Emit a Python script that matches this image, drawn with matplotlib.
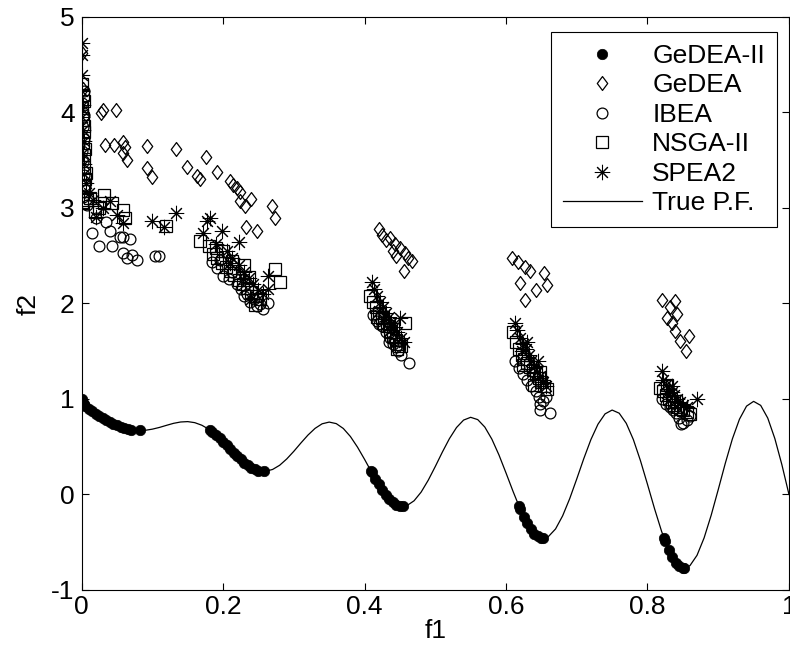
import matplotlib
matplotlib.use("Agg")
import matplotlib.pyplot as plt
from matplotlib.path import Path

plt.rcParams['font.family'] = ['Liberation Sans', 'DejaVu Sans']
plt.rcParams['axes.unicode_minus'] = False

# =========================
# DATA
# =========================
# True Pareto front curve, f1 in steps of 0.01
pf_f1 = [i / 100 for i in range(101)]
pf_f2 = [1.000, 0.897, 0.847, 0.803, 0.762, 0.726, 0.698, 0.679, 0.670, 0.672,
         0.684, 0.702, 0.724, 0.745, 0.759, 0.763, 0.752, 0.725, 0.682, 0.623,
         0.553, 0.477, 0.402, 0.334, 0.282, 0.250, 0.243, 0.262, 0.306, 0.372,
         0.452, 0.539, 0.622, 0.692, 0.740, 0.758, 0.742, 0.691, 0.607, 0.496,
         0.368, 0.233, 0.105, -0.004, -0.082, -0.121, -0.116, -0.066, 0.025, 0.149,
         0.293, 0.444, 0.585, 0.701, 0.779, 0.808, 0.784, 0.706, 0.579, 0.414,
         0.225, 0.031, -0.152, -0.303, -0.409, -0.456, -0.440, -0.361, -0.224, -0.044,
         0.163, 0.377, 0.575, 0.736, 0.844, 0.884, 0.851, 0.745, 0.575, 0.355,
         0.106, -0.150, -0.388, -0.583, -0.715, -0.772, -0.745, -0.637, -0.455, -0.218,
         0.051, 0.327, 0.582, 0.788, 0.925, 0.975, 0.933, 0.800, 0.586, 0.311,
         0.000]

# GeDEA-II (on the front)
gedea2_f1 = [0.000, 0.001, 0.002, 0.003, 0.005, 0.010, 0.015, 0.020, 0.025, 0.030,
             0.035, 0.040, 0.045, 0.050, 0.055, 0.060, 0.065, 0.070, 0.083,
             0.1822, 0.185, 0.190, 0.195, 0.200, 0.205, 0.210, 0.215, 0.220, 0.225,
             0.230, 0.235, 0.240, 0.245, 0.250, 0.2578,
             0.4093, 0.410, 0.415, 0.420, 0.425, 0.430, 0.435, 0.440, 0.445, 0.450, 0.4539,
             0.6184, 0.620, 0.625, 0.630, 0.635, 0.640, 0.645, 0.650, 0.6525,
             0.8233, 0.825, 0.830, 0.835, 0.840, 0.845, 0.850, 0.8518]
gedea2_f2 = [1.000, 0.968, 0.955, 0.945, 0.928, 0.897, 0.871, 0.847, 0.824, 0.803,
             0.782, 0.762, 0.743, 0.726, 0.711, 0.698, 0.687, 0.679, 0.670,
             0.670, 0.654, 0.623, 0.589, 0.553, 0.515, 0.477, 0.439, 0.402, 0.367,
             0.334, 0.306, 0.282, 0.263, 0.250, 0.242,
             0.242, 0.233, 0.167, 0.105, 0.048, -0.004, -0.047, -0.082, -0.107, -0.121, -0.124,
             -0.124, -0.152, -0.233, -0.303, -0.363, -0.409, -0.440, -0.456, -0.458,
             -0.458, -0.492, -0.583, -0.658, -0.715, -0.754, -0.772, -0.773]

# GeDEA
gedea_f1 = [0.001, 0.002, 0.003, 0.030, 0.028, 0.049, 0.033, 0.046, 0.059, 0.061,
            0.059, 0.064, 0.092, 0.092, 0.100, 0.134, 0.149, 0.163, 0.167, 0.176,
            0.191, 0.210, 0.214, 0.219, 0.224, 0.224, 0.231, 0.240, 0.269, 0.273,
            0.233, 0.248,
            0.420, 0.425, 0.430, 0.436, 0.443, 0.450, 0.457, 0.462, 0.467, 0.456,
            0.445, 0.440,
            0.608, 0.617, 0.627, 0.634, 0.620, 0.642, 0.627, 0.654, 0.658,
            0.820, 0.839, 0.832, 0.827, 0.841, 0.839, 0.846, 0.858, 0.855, 0.835]
gedea_f2 = [4.62, 4.25, 3.95, 4.03, 3.99, 4.03, 3.66, 3.66, 3.69, 3.64,
            3.58, 3.50, 3.65, 3.42, 3.32, 3.62, 3.43, 3.33, 3.30, 3.53,
            3.38, 3.28, 3.24, 3.21, 3.17, 3.07, 3.02, 3.09, 3.02, 2.90,
            2.80, 2.76,
            2.78, 2.72, 2.66, 2.69, 2.62, 2.58, 2.53, 2.48, 2.44, 2.34,
            2.50, 2.55,
            2.48, 2.43, 2.38, 2.34, 2.21, 2.14, 2.04, 2.32, 2.19,
            2.04, 2.03, 1.96, 1.85, 1.89, 1.71, 1.61, 1.66, 1.50, 1.80]

# IBEA
ibea_f1 = [0.001, 0.002, 0.001, 0.003, 0.002, 0.007, 0.014, 0.024, 0.040, 0.043,
           0.054, 0.059, 0.068, 0.059, 0.064, 0.078, 0.071, 0.104, 0.110, 0.020, 0.035,
           0.003, 0.004, 0.002, 0.005, 0.003,
           0.184, 0.191, 0.200, 0.219, 0.229, 0.248, 0.264, 0.208, 0.238, 0.256,
           0.196, 0.212, 0.226, 0.244, 0.234, 0.252,
           0.412, 0.418, 0.424, 0.430, 0.436, 0.440, 0.444, 0.447, 0.452, 0.463, 0.434,
           0.420, 0.442,
           0.612, 0.618, 0.624, 0.630, 0.636, 0.642, 0.646, 0.648, 0.652, 0.648, 0.662, 0.656,
           0.820, 0.826, 0.832, 0.836, 0.840, 0.845, 0.850, 0.856, 0.860, 0.848]
ibea_f2 = [4.10, 3.85, 3.60, 3.35, 3.12, 3.03, 2.74, 2.60, 2.76, 2.60,
           2.70, 2.70, 2.68, 2.53, 2.48, 2.46, 2.51, 2.50, 2.50, 2.90, 2.85,
           3.97, 3.72, 3.48, 3.24, 4.22,
           2.43, 2.37, 2.29, 2.20, 2.08, 1.97, 2.01, 2.26, 2.02, 1.94,
           2.45, 2.33, 2.15, 2.05, 2.10, 1.99,
           1.88, 1.82, 1.76, 1.70, 1.64, 1.58, 1.54, 1.50, 1.46, 1.38, 1.60,
           1.78, 1.62,
           1.40, 1.32, 1.26, 1.20, 1.14, 1.08, 1.02, 0.95, 0.98, 0.88, 0.85, 1.02,
           1.00, 0.95, 0.92, 0.88, 0.85, 0.80, 0.75, 0.78, 0.82, 0.74]

# NSGA-II
nsga2_f1 = [0.001, 0.002, 0.001, 0.002, 0.003, 0.002, 0.003, 0.004, 0.005, 0.003,
            0.000, 0.019, 0.031, 0.031, 0.043, 0.059, 0.061, 0.012, 0.120, 0.167,
            0.004, 0.003, 0.005, 0.006, 0.004, 0.008, 0.025,
            0.180, 0.186, 0.192, 0.198, 0.204, 0.210, 0.216, 0.222, 0.228, 0.234,
            0.240, 0.246, 0.252, 0.273, 0.280, 0.200, 0.230, 0.245,
            0.212, 0.236, 0.190,
            0.408, 0.412, 0.416, 0.420, 0.424, 0.428, 0.432, 0.436, 0.440, 0.444,
            0.448, 0.452, 0.457, 0.446, 0.418, 0.434,
            0.610, 0.614, 0.618, 0.622, 0.626, 0.630, 0.634, 0.638, 0.642, 0.646,
            0.650, 0.654, 0.658, 0.640, 0.624, 0.648,
            0.818, 0.822, 0.826, 0.830, 0.834, 0.838, 0.842, 0.846, 0.850, 0.856,
            0.860, 0.828, 0.840]
nsga2_f2 = [4.30, 4.18, 4.05, 3.92, 3.80, 3.68, 3.55, 3.43, 3.30, 3.18,
            3.05, 2.96, 3.14, 3.05, 3.05, 2.98, 2.89, 3.10, 2.81, 2.65,
            4.12, 3.86, 3.62, 3.37, 3.24, 3.08, 3.00,
            2.60, 2.52, 2.48, 2.42, 2.38, 2.34, 2.30, 2.25, 2.20, 2.16,
            2.12, 2.08, 2.05, 2.36, 2.23, 2.55, 2.40, 1.98,
            2.44, 2.28, 2.58,
            2.08, 2.02, 1.96, 1.90, 1.85, 1.80, 1.76, 1.70, 1.66, 1.62,
            1.58, 1.55, 1.80, 1.52, 1.86, 1.76,
            1.70, 1.60, 1.52, 1.46, 1.42, 1.38, 1.34, 1.30, 1.26, 1.22,
            1.18, 1.14, 1.10, 1.15, 1.36, 1.28,
            1.12, 1.08, 1.04, 1.00, 0.97, 0.94, 0.92, 0.90, 0.88, 0.86,
            0.84, 1.15, 0.98]

# SPEA2
spea2_f1 = [0.000, 0.000, 0.001, 0.001, 0.002, 0.001, 0.002, 0.003, 0.002, 0.003,
            0.004, 0.006, 0.010, 0.016, 0.021, 0.040, 0.030, 0.059, 0.050, 0.099,
            0.116, 0.134, 0.172, 0.177,
            0.181, 0.198, 0.190, 0.205, 0.213, 0.222, 0.222, 0.230, 0.236, 0.243,
            0.250, 0.256, 0.264, 0.264, 0.240, 0.210, 0.228,
            0.410, 0.414, 0.418, 0.422, 0.426, 0.430, 0.434, 0.438, 0.442, 0.446,
            0.450, 0.452, 0.456, 0.420, 0.436, 0.428,
            0.612, 0.616, 0.620, 0.624, 0.628, 0.632, 0.636, 0.640, 0.644, 0.648,
            0.652, 0.656, 0.630, 0.645, 0.622,
            0.820, 0.822, 0.826, 0.830, 0.834, 0.838, 0.842, 0.846, 0.850, 0.856,
            0.870, 0.835, 0.828]
spea2_f2 = [4.73, 4.60, 4.39, 4.22, 4.08, 3.95, 3.82, 3.70, 3.58, 3.46,
            3.36, 3.26, 3.16, 3.08, 2.91, 3.07, 3.00, 2.84, 2.93, 2.86,
            2.80, 2.95, 2.74, 2.86,
            2.90, 2.76, 2.62, 2.55, 2.48, 2.64, 2.40, 2.33, 2.27, 2.20,
            2.14, 2.10, 2.29, 2.15, 2.05, 2.42, 2.26,
            2.22, 2.15, 2.08, 2.02, 1.96, 1.90, 1.86, 1.80, 1.75, 1.70,
            1.85, 1.64, 1.60, 1.92, 1.72, 1.84,
            1.80, 1.72, 1.64, 1.58, 1.52, 1.46, 1.40, 1.34, 1.28, 1.24,
            1.18, 1.14, 1.60, 1.40, 1.50,
            1.29, 1.20, 1.15, 1.10, 1.07, 1.04, 1.00, 0.97, 0.94, 0.92,
            1.00, 1.14, 1.06]

x_ticks = [0, 0.2, 0.4, 0.6, 0.8, 1]
x_tick_labels = ['0', '0.2', '0.4', '0.6', '0.8', '1']
y_ticks = [-1, 0, 1, 2, 3, 4, 5]
y_tick_labels = ['-1', '0', '1', '2', '3', '4', '5']

# MATLAB-like diamond (a bit taller than wide)
diamond = Path([(0, 1), (0.75, 0), (0, -1), (-0.75, 0), (0, 1)],
               [Path.MOVETO, Path.LINETO, Path.LINETO, Path.LINETO, Path.CLOSEPOLY])

# =========================
# FIGURE
# =========================
fig = plt.figure(figsize=(7.9, 6.45), dpi=100)
ax = fig.add_axes([0.1033, 0.0853, 0.8954, 0.8884])

FS = 19
mk = dict(linestyle='none', color='k', markerfacecolor='none', markeredgewidth=0.9)

ax.plot(gedea2_f1, gedea2_f2, 'o', color='k', markersize=7.5, markeredgewidth=0.5,
        label='GeDEA-II')
ax.plot(gedea_f1, gedea_f2, marker=diamond, markersize=10, label='GeDEA', **mk)
ax.plot(ibea_f1, ibea_f2, marker='o', markersize=7.8, label='IBEA', **mk)
ax.plot(nsga2_f1, nsga2_f2, marker='s', markersize=8.2, label='NSGA-II', **mk)
ax.plot(spea2_f1, spea2_f2, marker=(8, 2, 0), markersize=11, label='SPEA2',
        linestyle='none', color='k', markeredgewidth=0.75)
ax.plot(pf_f1, pf_f2, '-', color='k', linewidth=0.9, label='True P.F.')

ax.set_xlim(0, 1)
ax.set_ylim(-1, 5)
ax.set_xticks(x_ticks)
ax.set_xticklabels(x_tick_labels)
ax.set_yticks(y_ticks)
ax.set_yticklabels(y_tick_labels)
ax.tick_params(direction='in', length=5, width=0.8, top=True, right=True,
               labelsize=FS)
ax.tick_params(axis='x', pad=3.5)
ax.tick_params(axis='y', pad=5)
for s in ax.spines.values():
    s.set_linewidth(0.8)

ax.set_xlabel('f1', fontsize=FS, labelpad=0)
ax.set_ylabel('f2', fontsize=FS, labelpad=8)

leg = ax.legend(loc='upper right', bbox_to_anchor=(0.983, 0.974), borderaxespad=0,
                fontsize=FS, numpoints=1, handlelength=3.0, handletextpad=0.4,
                labelspacing=0.21, borderpad=0.45, fancybox=False, framealpha=1,
                edgecolor='k')
leg.get_frame().set_linewidth(0.8)

fig.savefig('out.png', dpi=100)
